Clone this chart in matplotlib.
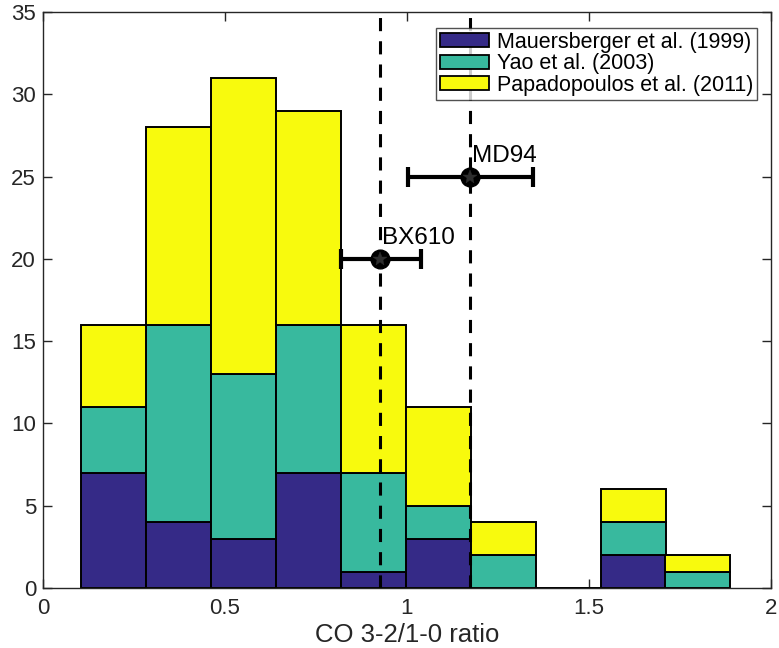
import numpy as np
import matplotlib
matplotlib.use("Agg")
import matplotlib.pyplot as plt
from matplotlib.patches import Patch

plt.rcParams['font.family'] = ['Liberation Sans', 'DejaVu Sans']

# histogram bins (left edges) and counts per study
bin_left = [0.104, 0.283, 0.461, 0.640, 0.818, 0.997, 1.175, 1.354, 1.532, 1.710]
bin_width = 0.1785
mauersberger = [7, 4, 3, 7, 1, 3, 0, 0, 2, 0]
yao = [4, 12, 10, 9, 6, 2, 2, 0, 2, 1]
papadopoulos = [5, 12, 18, 13, 9, 6, 2, 0, 2, 1]

series_names = ['Mauersberger et al. (1999)', 'Yao et al. (2003)', 'Papadopoulos et al. (2011)']
colors = ['#352a87', '#38b99e', '#f8fa0d']

# galaxies
gal_names = ['BX610', 'MD94']
gal_x = [0.926, 1.173]
gal_y = [20, 25]
gal_lo = [0.819, 1.003]
gal_hi = [1.038, 1.346]

axcol = '#262626'

fig = plt.figure(figsize=(7.79, 6.48), dpi=100)
ax = fig.add_axes([43/779, 1-588/648, (771-43)/779, (588-12)/648])

bottom = np.zeros(len(bin_left))
for vals, c in zip([mauersberger, yao, papadopoulos], colors):
  vals = np.array(vals, dtype=float)
  ax.bar(bin_left, vals, width=bin_width, bottom=bottom, align='edge',
         color=c, edgecolor='black', linewidth=1.4, zorder=2)
  bottom += vals

for x in gal_x:
  ax.axvline(x, color='black', linestyle=(0, (4.3, 3.3)), linewidth=2.2, zorder=3)

xerr = [np.array(gal_x) - np.array(gal_lo), np.array(gal_hi) - np.array(gal_x)]
ax.errorbar(gal_x, gal_y, xerr=xerr, fmt='o', color='black', markersize=13.5,
            elinewidth=3, capsize=7.5, capthick=3, zorder=4)
# faint asterisk inside the marker
ax.plot(gal_x, gal_y, '*', color='#2e2e2e', markersize=10, markeredgewidth=0.3,
        linestyle='none', zorder=5)
for name, x, y in zip(gal_names, gal_x, gal_y):
  ax.text(x + 0.006, y + 0.9, name, fontsize=17.5, ha='left', va='baseline', zorder=6)

ax.set_xlim(0, 2)
ax.set_ylim(0, 35)
ax.set_xticks([0, 0.5, 1, 1.5, 2])
ax.set_xticklabels(['0', '0.5', '1', '1.5', '2'])
ax.set_yticks(range(0, 36, 5))
ax.tick_params(direction='in', labelsize=16, length=6.5, width=1,
               top=True, right=True, colors=axcol, labelcolor=axcol)
ax.tick_params(axis='x', pad=7)
ax.tick_params(axis='y', pad=5)
for s in ax.spines.values():
  s.set_color(axcol)
  s.set_linewidth(1)
ax.set_xlabel('CO 3-2/1-0 ratio', fontsize=18.5, labelpad=3, color=axcol)

handles = [Patch(facecolor=c, edgecolor='black', linewidth=1.3) for c in colors]
leg = ax.legend(handles, series_names, loc='upper right', fontsize=15.5,
                bbox_to_anchor=(757/779, 1-28/648), bbox_transform=fig.transFigure,
                frameon=True, fancybox=False, edgecolor=axcol,
                handlelength=2.3, handleheight=0.65, handletextpad=0.35,
                labelspacing=0.02, borderpad=0.18, borderaxespad=0)
leg.get_frame().set_linewidth(1.0)
leg.set_zorder(10)

fig.savefig('out.png', dpi=100)
